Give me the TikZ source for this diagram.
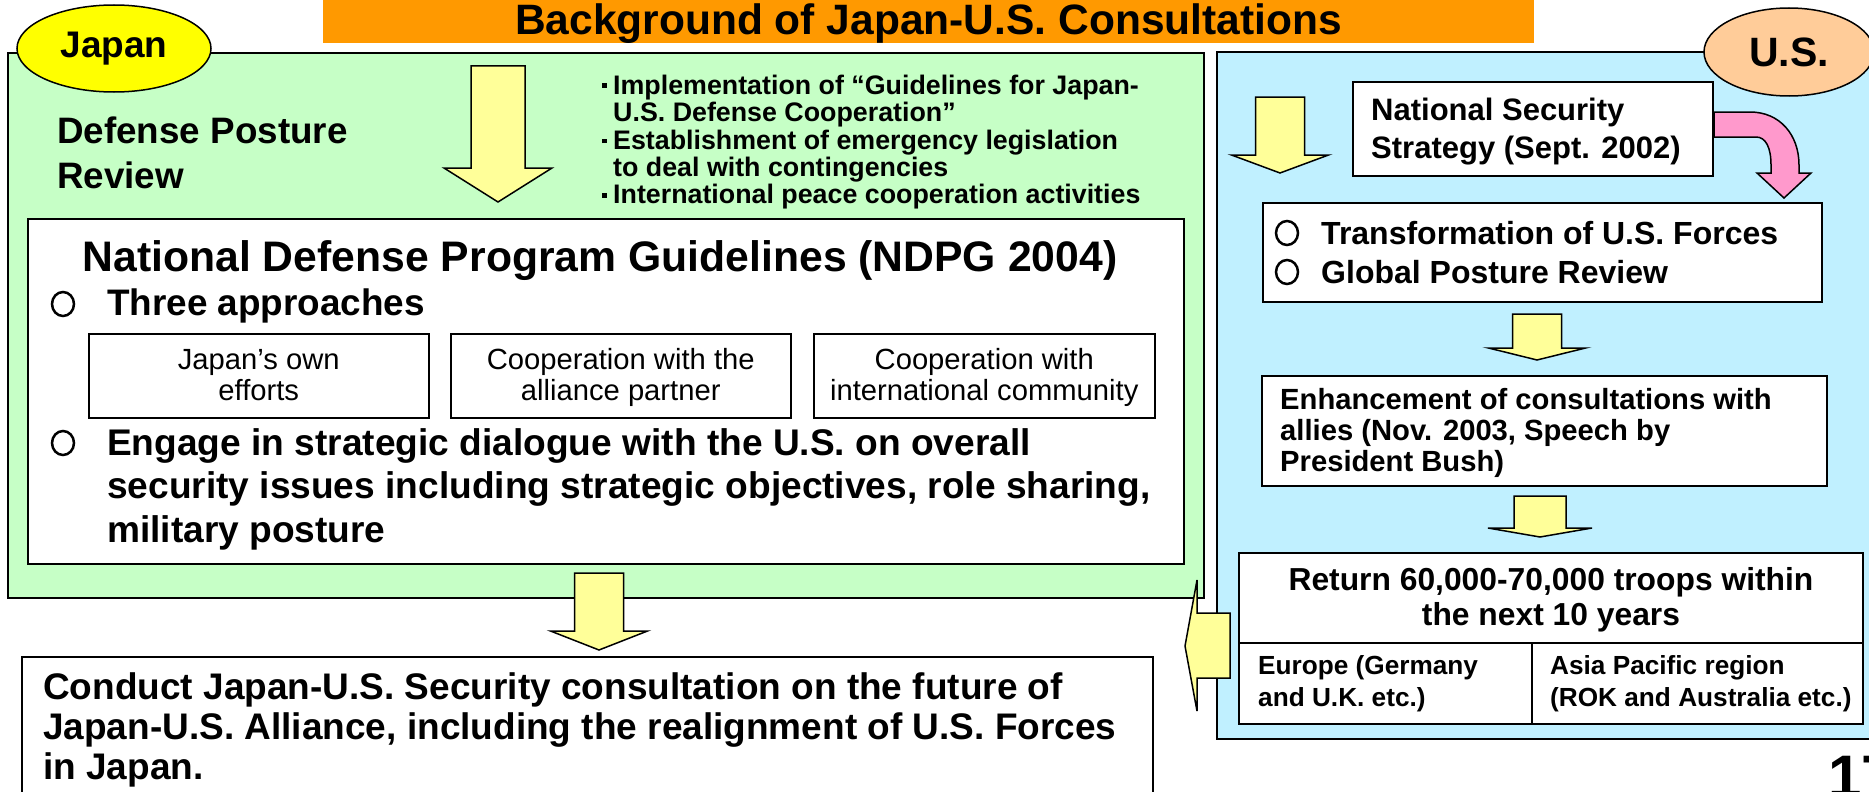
\documentclass[tikz,border=0pt]{standalone}
\usepackage{fontspec}
\setmainfont{Liberation Sans}
\newfontfamily\plainsans{Liberation Sans}
\usetikzlibrary{shapes.geometric}
\definecolor{orangebar}{HTML}{FF9900}
\definecolor{jgreen}{HTML}{C6FFC6}
\definecolor{ublue}{HTML}{C0F0FF}
\definecolor{jyellow}{HTML}{FFFF00}
\definecolor{upeach}{HTML}{FFCC99}
\definecolor{arrowyellow}{HTML}{FFFF99}
\definecolor{arrowpink}{HTML}{FF99CC}
\newcommand\Lt[1]{\vtop{\lineskiplimit=-100pt\lineskip=0pt\let\\\cr\halign{##\hfil\cr#1\crcr}}}
\newcommand\Ct[1]{\vtop{\lineskiplimit=-100pt\lineskip=0pt\let\\\cr\halign{\hfil##\hfil\cr#1\crcr}}}
\newcommand\fsz[2]{\fontsize{#1pt}{#2pt}\selectfont}
\newcommand\bul{\makebox[11pt][l]{\rule[6pt]{4.5pt}{4.5pt}}}
\newcommand\downblock[6]{\filldraw[blockarrow] (#1-#3,#2) -- (#1+#3,#2) -- (#1+#3,#5) -- (#1+#4,#5) -- (#1,#6) -- (#1-#4,#5) -- (#1-#3,#5) -- cycle;}
\tikzset{
  panel/.style={draw=black, line width=2pt, inner sep=0pt, anchor=north west},
  wbox/.style={draw=black, fill=white, line width=2pt, inner sep=0pt, anchor=north west},
  sbox/.style={draw=black, fill=white, line width=1.5pt, inner sep=0pt, anchor=north west},
  txt/.style={inner sep=0pt, anchor=base west},
  ctxt/.style={inner sep=0pt, anchor=base},
  blockarrow/.style={draw=black, line width=1.5pt, fill=arrowyellow, line join=miter},
  bulletcirc/.style={draw=black, line width=2.5pt, ellipse, minimum width=22pt, minimum height=24pt, inner sep=0pt},
  label ellipse/.style={ellipse, draw=black, line width=1.5pt, inner sep=0pt},
}
\begin{document}
\begin{tikzpicture}[x=1pt,y=-1pt]
\useasboundingbox (0,0) rectangle (1869,792);
% title
\node[fill=orangebar, inner sep=0pt, anchor=north west, minimum width=1211pt, minimum height=43pt] (titlebar) at (323,0) {};
\node[ctxt, font=\fsz{42.5}{45}\bfseries] (title) at (928.5,35) {Background of Japan-U.S. Consultations};
% panels
\node[panel, fill=jgreen, minimum width=1196pt, minimum height=545pt] (jpanel) at (7,52) {};
\node[label ellipse, fill=jyellow, minimum width=194pt, minimum height=87pt, font={\plainsans\fsz{37}{40}\bfseries}] (japan) at (114,48.5) {Japan};
\node[panel, fill=ublue, minimum width=670pt, minimum height=687pt] (upanel) at (1216,51) {};
\node[label ellipse, fill=upeach, minimum width=170pt, minimum height=88pt, font={\plainsans\fsz{41}{44}\bfseries}] (us) at (1789,52) {U.S.};
% Japan side
\node[txt, font=\fsz{36.8}{45}\bfseries] (dpr) at (57,143) {\Lt{Defense Posture\\Review}};
\downblock{498}{66}{27}{54}{168}{202}
\node[txt, font=\fsz{26.8}{27.5}\bfseries] (bullets) at (602,94) {\Lt{\bul Implementation of “Guidelines for Japan-\\\hspace*{11pt}U.S. Defense Cooperation”\\\bul Establishment of emergency legislation\\\hspace*{11pt}to deal with contingencies\\\bul International peace cooperation activities}};
\node[wbox, minimum width=1156pt, minimum height=345pt] (ndpg) at (27,218) {};
\node[ctxt, font=\fsz{42.7}{45}\bfseries] (ndpgtitle) at (600,271) {National Defense Program Guidelines (NDPG 2004)};
\node[bulletcirc] (c1) at (63,304) {};
\node[txt, font=\fsz{36.9}{40}\bfseries] (three) at (107,315) {Three approaches};
\node[sbox, minimum width=340pt, minimum height=84pt] (b1) at (88,333) {};
\node[sbox, minimum width=340pt, minimum height=84pt] (b2) at (450,333) {};
\node[sbox, minimum width=341pt, minimum height=84pt] (b3) at (813,333) {};
\node[ctxt, font=\fsz{29.2}{31}] (b1t) at (b1.center |- 0,369) {\Ct{Japan{\char39}s own\\efforts}};
\node[ctxt, font=\fsz{29.2}{31}] (b2t) at (b2.center |- 0,369) {\Ct{Cooperation with the\\alliance partner}};
\node[ctxt, font=\fsz{29.2}{31}] (b3t) at (b3.center |- 0,369) {\Ct{Cooperation with\\international community}};
\node[bulletcirc] (c2) at (63,443) {};
\node[txt, font=\fsz{37.1}{43.5}\bfseries] (engage) at (107,455) {\Lt{Engage in strategic dialogue with the U.S. on overall\\security issues including strategic objectives, role sharing,\\military posture}};
\downblock{599}{573}{24.5}{48.5}{631}{650}
\node[wbox, minimum width=1131pt, minimum height=150pt] (conduct) at (21,656) {};
\node[txt, font=\fsz{37}{40}\bfseries] (conductt) at (43,699) {\Lt{Conduct Japan-U.S. Security consultation on the future of\\Japan-U.S. Alliance, including the realignment of U.S. Forces\\in Japan.}};
% U.S. side
\downblock{1280}{97}{24.5}{48.5}{155}{173}
\node[wbox, minimum width=360pt, minimum height=94pt] (nss) at (1352,81) {};
\node[txt, font=\fsz{31}{37}\bfseries] (nsst) at (1371,121) {\Lt{National Security\\Strategy (Sept. 2002)}};
\filldraw[draw=black, line width=1.5pt, fill=arrowpink, line join=miter] (1714,112) -- (1750,112) .. controls (1780,112) and (1799,135) .. (1799,165) -- (1799,173) -- (1811,173) -- (1784,198) -- (1757,173) -- (1771,173) -- (1771,165) .. controls (1771,148) and (1766,137) .. (1756,137) -- (1714,137) -- cycle;
\node[wbox, minimum width=559pt, minimum height=99pt] (trans) at (1262,202) {};
\node[bulletcirc] (c3) at (1287,233) {};
\node[bulletcirc] (c4) at (1287,272) {};
\node[txt, font=\fsz{32}{39}\bfseries] (transt) at (1321,244) {\Lt{Transformation of U.S. Forces\\Global Posture Review}};
\downblock{1537}{314}{24.5}{48.5}{348}{360}
\node[wbox, minimum width=565pt, minimum height=110pt] (enh) at (1261,375) {};
\node[txt, font=\fsz{29.2}{31}\bfseries] (enht) at (1280,409) {\Lt{Enhancement of consultations with\\allies (Nov. 2003, Speech by\\President Bush)}};
\downblock{1540}{496}{26}{52}{528}{537}
\node[wbox, minimum width=624pt, minimum height=90pt] (rettop) at (1238,552) {};
\node[wbox, minimum width=293pt, minimum height=81pt] (eur) at (1238,642) {};
\node[wbox, minimum width=331pt, minimum height=81pt] (asia) at (1531,642) {};
\node[ctxt, font=\fsz{31.8}{35}\bfseries] (rett) at (rettop.center |- 0,590) {\Ct{Return 60,000-70,000 troops within\\the next 10 years}};
\node[txt, font=\fsz{26.2}{32}\bfseries] (eurt) at (1258,674) {\Lt{Europe (Germany\\and U.K. etc.)}};
\node[txt, font=\fsz{26.2}{32}\bfseries] (asiat) at (1550,674) {\Lt{Asia Pacific region\\(ROK and Australia etc.)}};
% left arrow from U.S. to Japan
\filldraw[blockarrow] (1230,613) -- (1197,613) -- (1197,580) -- (1185,646) -- (1197,711) -- (1197,678) -- (1230,678) -- cycle;
% page number
\node[txt, font={\plainsans\fsz{60}{60}\bfseries}] (page) at (1828,797) {17};
\end{tikzpicture}
\end{document}
